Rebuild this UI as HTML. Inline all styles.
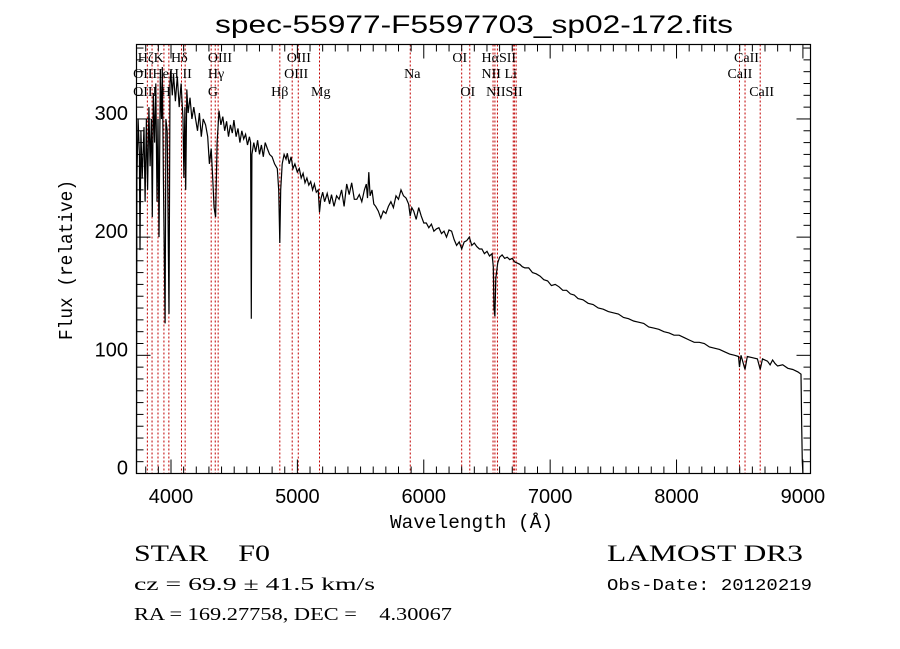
<!DOCTYPE html>
<html><head><meta charset="utf-8"><style>
html,body{margin:0;padding:0;background:#fff;}
svg{display:block;}
text{fill:#000;}
</style></head><body>
<svg id="chart" width="900" height="649" viewBox="0 0 900 649" xmlns="http://www.w3.org/2000/svg">
<rect width="900" height="649" fill="#fff"/>
<text x="215" y="33" textLength="518" lengthAdjust="spacingAndGlyphs" font-family="Liberation Sans, sans-serif" font-size="25">spec-55977-F5597703_sp02-172.fits</text>
<g id="lines"></g>
<g id="ticks"></g>
<path id="spec" fill="none" stroke="#000" stroke-width="1.2"/>
<rect x="136.5" y="44.5" width="674" height="429" fill="none" stroke="#000" stroke-width="1.2"/>
<g id="labels" font-family="Liberation Serif, serif" font-size="14"></g>
<text x="390" y="528" textLength="163" lengthAdjust="spacingAndGlyphs" font-family="Liberation Mono, monospace" font-size="19">Wavelength (Å)</text>
<text transform="translate(72,340) rotate(-90)" textLength="160" lengthAdjust="spacingAndGlyphs" font-family="Liberation Mono, monospace" font-size="19">Flux (relative)</text>
<text x="134" y="561" textLength="136" lengthAdjust="spacingAndGlyphs" font-family="Liberation Serif, serif" font-size="23" xml:space="preserve">STAR    F0</text>
<text x="134" y="590" textLength="241" lengthAdjust="spacingAndGlyphs" font-family="Liberation Serif, serif" font-size="18">cz = 69.9 ± 41.5 km/s</text>
<text x="134" y="620" textLength="318" lengthAdjust="spacingAndGlyphs" font-family="Liberation Serif, serif" font-size="18" xml:space="preserve">RA = 169.27758, DEC =    4.30067</text>
<text x="607" y="561" textLength="196" lengthAdjust="spacingAndGlyphs" font-family="Liberation Serif, serif" font-size="23">LAMOST DR3</text>
<text x="607" y="590" textLength="205" lengthAdjust="spacingAndGlyphs" font-family="Liberation Mono, monospace" font-size="17">Obs-Date: 20120219</text>
</svg>
<script>
const wavelengths = [3727,3730,3740,3750,3755,3762,3772,3786,3795,3805,3815,3825,3835,3845,3852,3860,3870,3880,3889,3897,3905,3915,3925,3931,3940,3953,3960,3970,3984,3992,3998,4010,4020,4035,4050,4065,4080,4095,4102,4110,4116,4125,4135,4150,4165,4180,4195,4210,4225,4240,4255,4274,4290,4304,4318,4330,4341,4353,4365,4380,4395,4410,4425,4440,4455,4470,4485,4498,4515,4530,4545,4560,4575,4590,4605,4620,4630,4635,4640,4655,4670,4685,4700,4715,4730,4745,4762,4780,4800,4820,4841,4852,4861,4868,4880,4895,4910,4920,4935,4950,4965,4980,4999,5015,5030,5045,5060,5075,5090,5105,5120,5135,5150,5165,5175,5185,5200,5215,5236,5255,5270,5290,5310,5330,5350,5370,5390,5410,5430,5450,5470,5490,5510,5530,5545,5555,5565,5575,5590,5605,5620,5640,5660,5680,5700,5720,5740,5760,5780,5800,5820,5840,5860,5880,5893,5905,5920,5940,5960,5980,6000,6020,6040,6060,6080,6100,6120,6140,6160,6180,6200,6220,6240,6260,6280,6300,6320,6340,6360,6380,6400,6420,6440,6460,6480,6500,6520,6540,6550,6556,6563,6570,6585,6600,6620,6640,6660,6680,6700,6720,6740,6760,6780,6800,6830,6860,6890,6920,6950,6980,7010,7040,7070,7100,7130,7160,7190,7220,7260,7300,7340,7380,7420,7460,7500,7540,7580,7620,7660,7700,7740,7780,7820,7860,7900,7940,7980,8020,8060,8100,8140,8180,8220,8260,8300,8340,8380,8420,8460,8490,8498,8510,8542,8560,8600,8640,8662,8680,8720,8740,8760,8780,8800,8840,8880,8920,8960,8985,8990,8995,9000];
const fluxes = [0,250,300,270,189,290,250,293,230,300,240,310,260,300,217,322,280,330,230,300,200,335,300,344,250,127,300,290,135,330,341,320,338,315,336,310,330,300,250,310,240,325,305,318,300,310,300,290,305,285,300,295,285,262,275,250,225,217,280,307,295,302,290,298,285,295,288,299,285,292,280,290,283,287,278,285,280,131,270,280,272,282,270,278,268,280,275,270,268,262,258,240,195,240,262,270,266,271,262,268,258,262,255,258,250,254,246,250,244,247,240,245,238,240,221,232,238,230,237,228,236,226,235,232,240,226,245,236,246,232,232,236,230,240,245,233,255,235,240,228,226,222,216,222,220,226,230,225,235,232,240,235,233,228,218,225,222,215,225,218,212,212,208,211,205,207,208,203,205,200,206,205,198,193,196,190,196,197,200,193,195,192,190,190,186,188,184,186,175,140,133,165,178,183,185,182,183,181,182,179,178,177,175,174,174,170,169,167,164,163,159,160,158,155,155,152,151,148,147,144,143,140,139,137,136,135,132,131,129,128,127,124,123,122,120,119,117,117,115,113,111,111,110,107,106,105,103,101,100,99,90,100,88,99,98,97,88,97,95,92,96,93,91,92,89,88,86,84,40,10,0];
const lineWaves = [3727,3813,3850,3897,3944,3983,4083,4112,4318,4350,4373,4861,4959,5007,5175,5893,6300,6364,6548,6563,6583,6708,6717,6731,8498,8542,8662];
const labelTexts = ["HζK","Hδ","OIII","OIII","OI","HαSII","CaII","OIIHeH II","Hγ","OIII","Na","NII Li","CaII","OIII H","G","Hβ","Mg","OI","NIISII","CaII"];
const labelWaves = [3737,4000,4292,4916,6226,6457,8455,3700,4292,4895,5845,6457,8403,3700,4292,4792,5108,6290,6493,8575];
const labelRows = [1,1,1,1,1,1,1,2,2,2,2,2,2,3,3,3,3,3,3,3];
const xTicks = [4000,5000,6000,7000,8000,9000];
const yTicks = [0,100,200,300];

const NS = "http://www.w3.org/2000/svg";
const X0=136.5, X1=810.5, Y0=473.5, Y1=44.5;
const xMin=3727, xMax=9060, yMin=0, yMax=363;
function xs(w){return X0+(w-xMin)/(xMax-xMin)*(X1-X0);}
function ys(f){return Y0-(f-yMin)/(yMax-yMin)*(Y0-Y1);}
function mk(tag,attrs,parent){const e=document.createElementNS(NS,tag);for(const k in attrs)e.setAttribute(k,attrs[k]);parent.appendChild(e);return e;}

const linesG=document.getElementById('lines');
lineWaves.forEach(w=>{
  const l=mk('line',{x1:xs(w),x2:xs(w),y1:Y1,y2:Y0,stroke:'#c00000','stroke-width':1,'stroke-dasharray':'2,2'},linesG);
  
  
});

let d='';
wavelengths.forEach((w,i)=>{d+=(i?'L':'M')+xs(w).toFixed(1)+','+ys(fluxes[i]).toFixed(1);});
document.getElementById('spec').setAttribute('d',d);

const tg=document.getElementById('ticks');
for(let w=3800;w<=9000;w+=100){
  const major=w%1000===0, len=major?14:7;
  mk('line',{x1:xs(w),x2:xs(w),y1:Y0,y2:Y0-len,stroke:'#000'},tg);
  mk('line',{x1:xs(w),x2:xs(w),y1:Y1,y2:Y1+len,stroke:'#000'},tg);
}
for(let f=0;f<=360;f+=10){
  const major=f%100===0, len=major?14:7;
  mk('line',{x1:X0,x2:X0+len,y1:ys(f),y2:ys(f),stroke:'#000'},tg);
  mk('line',{x1:X1,x2:X1-len,y1:ys(f),y2:ys(f),stroke:'#000'},tg);
}
xTicks.forEach(w=>{
  const t=mk('text',{x:xs(w),y:503,'text-anchor':'middle','font-family':'Liberation Sans, sans-serif','font-size':20},tg);
  t.textContent=w;
  
  
});
yTicks.forEach(f=>{
  const t=mk('text',{x:128,y:ys(f)+1,'text-anchor':'end','font-family':'Liberation Sans, sans-serif','font-size':20},tg);
  t.textContent=f;
  
  
});

const lg=document.getElementById('labels');
const rowY={1:62,2:78,3:96};
labelTexts.forEach((s,i)=>{
  const t=mk('text',{x:xs(labelWaves[i]),y:rowY[labelRows[i]]},lg);
  t.textContent=s;
  
  
});
</script>
</body></html>
